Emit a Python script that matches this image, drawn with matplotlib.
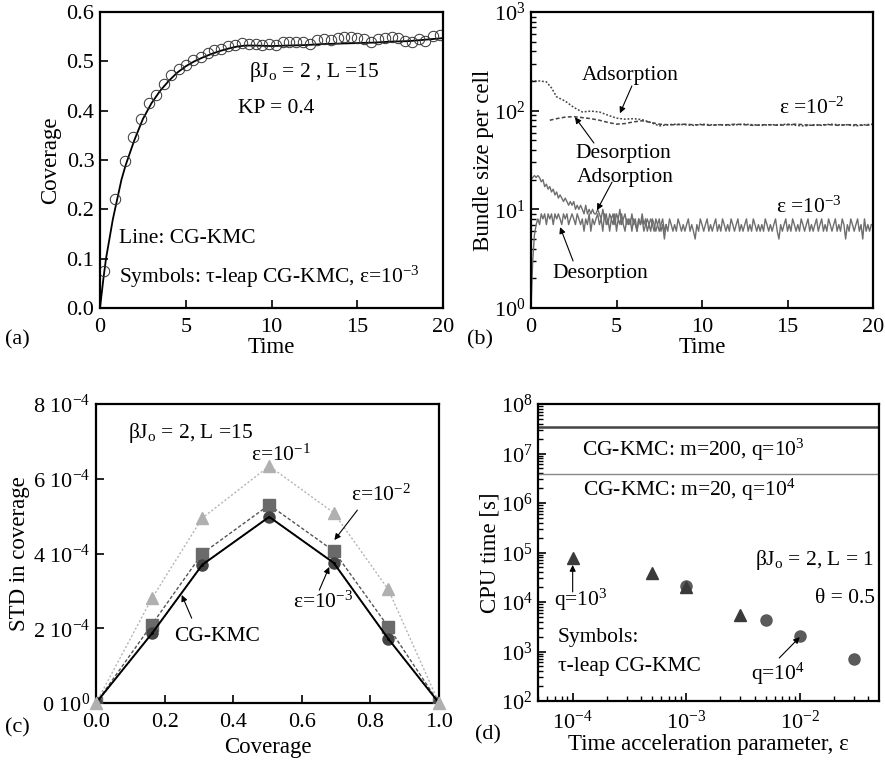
import matplotlib
matplotlib.use('Agg')
import matplotlib.pyplot as plt
import numpy as np
from matplotlib.ticker import LogLocator, NullFormatter, FixedFormatter

plt.rcParams['font.family'] = ['Liberation Serif', 'DejaVu Serif']
plt.rcParams['mathtext.fontset'] = 'custom'
plt.rcParams['mathtext.rm'] = 'Liberation Serif'
plt.rcParams['mathtext.it'] = 'Liberation Serif:italic'
plt.rcParams['font.size'] = 15.5
plt.rcParams['axes.linewidth'] = 1.6

# ---------------- data: panel (a) ----------------
a_line_t = [0, 0.1, 0.2, 0.35, 0.5, 0.75, 1.0, 1.25, 1.5, 2.0, 2.5, 3.0, 3.5, 4.0, 4.5, 5.0,
            5.5, 6.0, 6.5, 7.0, 7.5, 8.0, 8.5, 9.0, 10.0, 11.0, 12.0, 13.0, 14.0, 15.0,
            16.0, 17.0, 18.0, 19.0, 20.0]
a_line_y = [0, 0.03, 0.06, 0.10, 0.13, 0.18, 0.22, 0.26, 0.29, 0.34, 0.383, 0.415, 0.44, 0.46,
            0.477, 0.49, 0.50, 0.508, 0.515, 0.521, 0.526, 0.530, 0.532, 0.532, 0.531, 0.532,
            0.533, 0.535, 0.536, 0.537, 0.538, 0.540, 0.541, 0.544, 0.547]
a_sym_t = [0.23, 0.87, 1.43, 1.91, 2.39, 2.88, 3.28, 3.76, 4.15, 4.61, 5.02, 5.44, 5.89, 6.27,
           6.66, 7.05, 7.49, 7.88, 8.3, 8.69, 9.07, 9.46, 9.85, 10.27, 10.68, 11.04, 11.45,
           11.83, 12.26, 12.64, 13.07, 13.46, 13.86, 14.25, 14.63, 15.0, 15.4, 15.8, 16.2,
           16.6, 17.0, 17.4, 17.8, 18.2, 18.6, 18.95, 19.4, 19.8]
a_sym_y = [0.074, 0.22, 0.297, 0.347, 0.384, 0.415, 0.432, 0.455, 0.472, 0.484, 0.493, 0.503,
           0.509, 0.516, 0.523, 0.526, 0.531, 0.534, 0.538, 0.536, 0.535, 0.533, 0.536, 0.534,
           0.540, 0.539, 0.540, 0.540, 0.536, 0.543, 0.545, 0.543, 0.547, 0.549, 0.549, 0.547,
           0.545, 0.540, 0.545, 0.548, 0.549, 0.547, 0.542, 0.540, 0.545, 0.542, 0.551, 0.553]

# ---------------- data: panel (b) ----------------
b_ads2_t = [0, 0.5, 0.9, 1.2, 1.5, 2.0, 2.5, 3.0, 3.5, 4.0, 4.5, 5.0, 5.5, 6.0, 6.5, 7.0, 7.5,
            8.0, 8.5, 9.0, 9.5, 10.0, 10.5, 11.0, 11.5, 12.0, 12.5, 13.0, 13.5, 14.0, 14.5,
            15.0, 15.5, 16.0, 16.5, 17.0, 17.5, 18.0, 18.5, 19.0, 19.5, 20.0]
b_ads2_y = [200, 200, 196, 170, 138, 125, 108, 97, 99, 97, 90, 84, 82, 83, 81, 76, 70,
            72, 73, 72, 71, 73, 72, 72, 71, 72, 73, 72, 71, 72, 72, 73, 71, 70, 72, 71,
            73, 72, 72, 70, 72, 73]
b_des2_t = [1.1, 1.5, 2.0, 2.5, 3.0, 3.5, 4.0, 4.5, 5.0, 5.5, 6.0, 6.5, 7.0, 7.5, 8.0, 8.5,
            9.0, 9.5, 10.0, 10.5, 11.0, 11.5, 12.0, 12.5, 13.0, 13.5, 14.0, 14.5, 15.0, 15.5,
            16.0, 16.5, 17.0, 17.5, 18.0, 18.5, 19.0, 19.5, 20.0]
b_des2_y = [80, 83, 86, 87, 85, 83, 80, 76, 73, 74, 77, 79, 76, 73, 72, 72, 73, 72, 72,
            71, 72, 72, 73, 72, 71, 72, 72, 71, 72, 73, 72, 71, 72, 72, 71, 72, 72, 71, 72]
b_dt3 = 0.1
b_ads3_y = [20, 21, 22, 21, 22, 21, 19, 20, 17, 18,
            16, 17, 15, 16, 14, 15, 13, 14, 13, 12,
            13, 12, 11, 12, 11, 12, 10, 11, 10, 11,
            10, 9, 11, 9, 10, 9, 10, 9, 9, 10,
            9, 8, 10, 8, 9, 7, 9, 8, 9, 7,
            9, 8, 10, 7, 8, 9, 7, 8, 7, 9,
            7, 8, 6, 8, 7, 9, 7, 8, 6, 7,
            8, 7, 6, 8, 7, 6, 7, 8, 6, 7]
b_des3_y = [1, 3, 5.5, 7, 8, 7, 9, 8, 9, 7,
            9, 8, 9, 7, 9, 8, 9, 8, 7, 9,
            8, 9, 7, 8, 9, 8, 7, 9, 8, 7,
            8, 6, 8, 7, 9, 6, 8, 7, 8, 9,
            7, 8, 6, 9, 7, 8, 6, 8, 7, 9,
            6, 8, 7, 9, 7, 6, 8, 7, 8, 6,
            8, 7, 6, 8, 7, 8, 6, 7, 8, 7,
            6, 8, 7, 6, 7, 8, 6, 7, 5, 7,
            6, 8, 7, 6, 7, 6, 8, 7, 6, 7,
            6, 7, 8, 6, 7, 6, 5, 7, 6, 8,
            7, 6, 7, 8, 6, 7, 6, 7, 8, 6,
            7, 6, 8, 7, 6, 7, 6, 8, 7, 6,
            7, 8, 6, 7, 6, 7, 8, 6, 7, 6,
            8, 7, 6, 7, 6, 7, 6, 8, 7, 6,
            7, 6, 7, 8, 6, 5, 7, 6, 7, 8,
            6, 7, 6, 8, 7, 6, 7, 6, 8, 7,
            6, 7, 8, 6, 7, 6, 7, 8, 6, 7,
            8, 6, 7, 6, 8, 7, 6, 7, 8, 6,
            7, 6, 8, 7, 5, 7, 6, 8, 7, 6,
            7, 8, 6, 7, 5, 8, 6, 7, 6, 7,
            7]

# ---------------- data: panel (c) ----------------
c_x = [0.0, 0.163, 0.31, 0.505, 0.693, 0.852, 1.0]
c_kmc = [0.0, 1.86e-4, 3.70e-4, 4.98e-4, 3.75e-4, 1.72e-4, 0.0]
c_e3 = [0.0, 1.86e-4, 3.70e-4, 4.98e-4, 3.75e-4, 1.72e-4, 0.0]
c_e2 = [0.0, 2.10e-4, 4.00e-4, 5.30e-4, 4.07e-4, 2.04e-4, 0.0]
c_e1 = [0.0, 2.80e-4, 4.95e-4, 6.34e-4, 5.09e-4, 3.04e-4, 0.0]
c_yticks = [0, 2e-4, 4e-4, 6e-4, 8e-4]
c_yticklabels = [r'0 10$^{0}$', r'2 10$^{-4}$', r'4 10$^{-4}$', r'6 10$^{-4}$', r'8 10$^{-4}$']
c_xticks = [0.0, 0.2, 0.4, 0.6, 0.8, 1.0]
c_xticklabels = ['0.0', '0.2', '0.4', '0.6', '0.8', '1.0']

# ---------------- data: panel (d) ----------------
d_tri_eps = [1e-4, 5e-4, 1e-3, 3e-3]
d_tri_cpu = [7.6e4, 3.9e4, 2.04e4, 5.4e3]
d_cir_eps = [1e-3, 5e-3, 1e-2, 3e-2]
d_cir_cpu = [2.1e4, 4.3e3, 2.1e3, 7.2e2]
d_kmc_m200 = 3.4e7
d_kmc_m20 = 3.8e6

W, H = 885, 762
fig = plt.figure(figsize=(W / 100, H / 100), dpi=100)
TICK_FS = 16
LABEL_FS = 16.5


def axpx(l, t, r, b):
    return fig.add_axes([l / W, 1 - b / H, (r - l) / W, (b - t) / H])


def style(ax):
    ax.tick_params(which='both', direction='in', top=False, right=False, labelsize=TICK_FS)
    ax.tick_params(axis='x', which='major', length=6, width=1.2, pad=7)
    ax.tick_params(axis='y', which='major', length=6, width=1.2, pad=4)
    ax.tick_params(which='minor', length=3.5, width=1.0)


# ---------------- (a) ----------------
axA = axpx(100, 12, 443, 308)
axA.plot(a_line_t, a_line_y, color='black', lw=1.3)
axA.plot(a_sym_t, a_sym_y, 'o', mfc='none', mec='#333333', mew=0.7, ms=7.5)
axA.set_xlim(0, 20)
axA.set_ylim(0, 0.6)
axA.set_xticks([0, 5, 10, 15, 20])
axA.set_yticks([0, 0.1, 0.2, 0.3, 0.4, 0.5, 0.6])
axA.yaxis.set_major_formatter(FixedFormatter(['0.0', '0.1', '0.2', '0.3', '0.4', '0.5', '0.6']))
style(axA)
axA.set_xlabel('Time', labelpad=0, fontsize=LABEL_FS)
axA.set_ylabel('Coverage', labelpad=4, fontsize=LABEL_FS)
axA.text(12.5, 0.479, r'βJ$_{\mathrm{o}}$ = 2 , L =15', ha='center', va='center')
axA.text(10.3, 0.405, 'KP = 0.4', ha='center', va='center')
axA.text(1.12, 0.141, 'Line: CG-KMC', ha='left', va='center')
axA.text(1.12, 0.0635, r'Symbols: τ-leap CG-KMC, ε=10$^{-3}$', ha='left', va='center')

# ---------------- (b) ----------------
axB = axpx(531, 12, 873, 308)
axB.set_yscale('log')
t3_ads = [i * b_dt3 for i in range(len(b_ads3_y))]
t3_des = [i * b_dt3 for i in range(len(b_des3_y))]
axB.plot(t3_des, b_des3_y, color='#6e6e6e', lw=1.0)
axB.plot(t3_ads, b_ads3_y, color='#6e6e6e', lw=1.0)
axB.plot(b_ads2_t, b_ads2_y, color='#444444', lw=1.1, ls=(0, (1.2, 1.2)))
axB.plot(b_des2_t, b_des2_y, color='#444444', lw=1.1, ls=(0, (2.5, 1.5)))
axB.set_xlim(0, 20)
axB.set_ylim(1, 1000)
axB.set_xticks([0, 5, 10, 15, 20])
axB.yaxis.set_major_locator(LogLocator(base=10, numticks=10))
axB.yaxis.set_minor_locator(LogLocator(base=10, subs=np.arange(2, 10), numticks=10))
axB.yaxis.set_minor_formatter(NullFormatter())
style(axB)
axB.set_xlabel('Time', labelpad=0, fontsize=LABEL_FS)
axB.set_ylabel('Bundle size per cell', labelpad=0, fontsize=LABEL_FS)
arw = dict(arrowstyle='-|>', color='black', lw=0.8, mutation_scale=9, shrinkA=0, shrinkB=0)
axB.text(5.79, 229, 'Adsorption', ha='center', va='center')
axB.annotate('', xy=(5.2, 94), xytext=(5.9, 178), arrowprops=arw)
axB.text(16.4, 106, r'ε =10$^{-2}$', ha='center', va='center')
axB.text(5.38, 37, 'Desorption', ha='center', va='center')
axB.annotate('', xy=(2.57, 86), xytext=(3.68, 47), arrowprops=arw)
axB.text(5.5, 20.8, 'Adsorption', ha='center', va='center')
axB.annotate('', xy=(3.86, 9.8), xytext=(4.74, 18.9), arrowprops=arw)
axB.text(16.26, 10.6, r'ε =10$^{-3}$', ha='center', va='center')
axB.text(4.04, 2.26, 'Desorption', ha='center', va='center')
axB.annotate('', xy=(1.7, 6.6), xytext=(2.46, 3.0), arrowprops=arw)

# ---------------- (c) ----------------
axC = axpx(96, 404, 439, 703)
axC.plot(c_x, c_e1, ls=(0, (1.5, 1.5)), color='#b5b5b5', lw=1.0, marker='^', ms=8,
         mfc='#b0b0b0', mec='#b0b0b0', zorder=2)
axC.plot(c_x, c_e2, ls=(0, (2.5, 1.5)), color='#555555', lw=1.0, marker='s', ms=8.5,
         mfc='#6a6a6a', mec='#6a6a6a', zorder=3)
axC.plot(c_x, c_e3, ls=':', color='#444444', lw=1.0, marker='o', ms=8,
         mfc='#444444', mec='#444444', zorder=4)
axC.plot(c_x, c_kmc, '-', color='black', lw=1.4, marker='.', ms=2, zorder=5)
axC.plot([c_x[0], c_x[-1]], [c_e1[0], c_e1[-1]], '^', ms=8, mfc='#b0b0b0', mec='#b0b0b0',
         zorder=6, clip_on=False)
axC.set_xlim(0, 1)
axC.set_ylim(0, 8e-4)
axC.set_xticks(c_xticks)
axC.set_xticklabels(c_xticklabels)
axC.set_yticks(c_yticks)
axC.set_yticklabels(c_yticklabels)
style(axC)
axC.set_xlabel('Coverage', labelpad=4, fontsize=LABEL_FS)
axC.set_ylabel('STD in coverage', labelpad=2, fontsize=LABEL_FS)
axC.text(0.093, 7.22e-4, r'βJ$_{\mathrm{o}}$ = 2, L =15', ha='left', va='center')
axC.text(0.538, 6.64e-4, r'ε=10$^{-1}$', ha='center', va='center')
axC.text(0.83, 5.57e-4, r'ε=10$^{-2}$', ha='center', va='center')
axC.annotate('', xy=(0.695, 4.36e-4), xytext=(0.762, 5.16e-4), arrowprops=arw)
axC.text(0.663, 2.70e-4, r'ε=10$^{-3}$', ha='center', va='center')
axC.annotate('', xy=(0.68, 3.64e-4), xytext=(0.651, 3.02e-4), arrowprops=arw)
axC.text(0.352, 1.77e-4, 'CG-KMC', ha='center', va='center')
axC.annotate('', xy=(0.25, 2.89e-4), xytext=(0.279, 2.27e-4), arrowprops=arw)

# ---------------- (d) ----------------
axD = axpx(538, 404, 879, 701)
axD.set_xscale('log')
axD.set_yscale('log')
axD.axhline(d_kmc_m200, color='#444444', lw=1.8)
axD.axhline(d_kmc_m20, color='#888888', lw=1.0)
axD.plot(d_cir_eps, d_cir_cpu, 'o', ms=8, mfc='#5a5a5a', mec='#5a5a5a', ls='none')
axD.plot(d_tri_eps, d_tri_cpu, '^', ms=8, mfc='#3a3a3a', mec='#3a3a3a', ls='none')
axD.set_xlim(4.95e-5, 4.99e-2)
axD.set_ylim(1e2, 1e8)
axD.xaxis.set_major_locator(LogLocator(base=10, numticks=10))
axD.xaxis.set_minor_locator(LogLocator(base=10, subs=np.arange(2, 10), numticks=10))
axD.xaxis.set_minor_formatter(NullFormatter())
axD.yaxis.set_major_locator(LogLocator(base=10, numticks=10))
axD.yaxis.set_minor_locator(LogLocator(base=10, subs=np.arange(2, 10), numticks=10))
axD.yaxis.set_minor_formatter(NullFormatter())
style(axD)
axD.set_xlabel('Time acceleration parameter, ε', labelpad=0, fontsize=LABEL_FS)
axD.set_ylabel('CPU time [s]', labelpad=0, fontsize=LABEL_FS)
axD.text(1.21e-4, 1.2e7, r'CG-KMC: m=200, q=10$^3$', ha='left', va='center')
axD.text(1.23e-4, 1.86e6, r'CG-KMC: m=20, q=10$^4$', ha='left', va='center')
axD.text(0.0457, 7.1e4, r'βJ$_{\mathrm{o}}$ = 2, L = 1', ha='right', va='center')
axD.text(0.0457, 1.2e4, 'θ = 0.5', ha='right', va='center')
axD.text(1.18e-4, 1.1e4, r'q=10$^3$', ha='center', va='center')
axD.annotate('', xy=(1e-4, 5.6e4), xytext=(1e-4, 1.6e4), arrowprops=arw)
axD.text(7.4e-5, 1.9e3, 'Symbols:', ha='left', va='center')
axD.text(7.4e-5, 4.9e2, 'τ-leap CG-KMC', ha='left', va='center')
axD.text(6.4e-3, 3.6e2, r'q=10$^4$', ha='center', va='center')
axD.annotate('', xy=(1.0e-2, 1.95e3), xytext=(6.6e-3, 7.4e2), arrowprops=arw)

# panel labels
fig.text(5 / W, 1 - 340 / H, '(a)', ha='left', va='center', fontsize=16)
fig.text(467 / W, 1 - 340 / H, '(b)', ha='left', va='center', fontsize=16)
fig.text(5 / W, 1 - 728 / H, '(c)', ha='left', va='center', fontsize=16)
fig.text(475 / W, 1 - 735 / H, '(d)', ha='left', va='center', fontsize=16)

fig.savefig('out.png', dpi=100)
